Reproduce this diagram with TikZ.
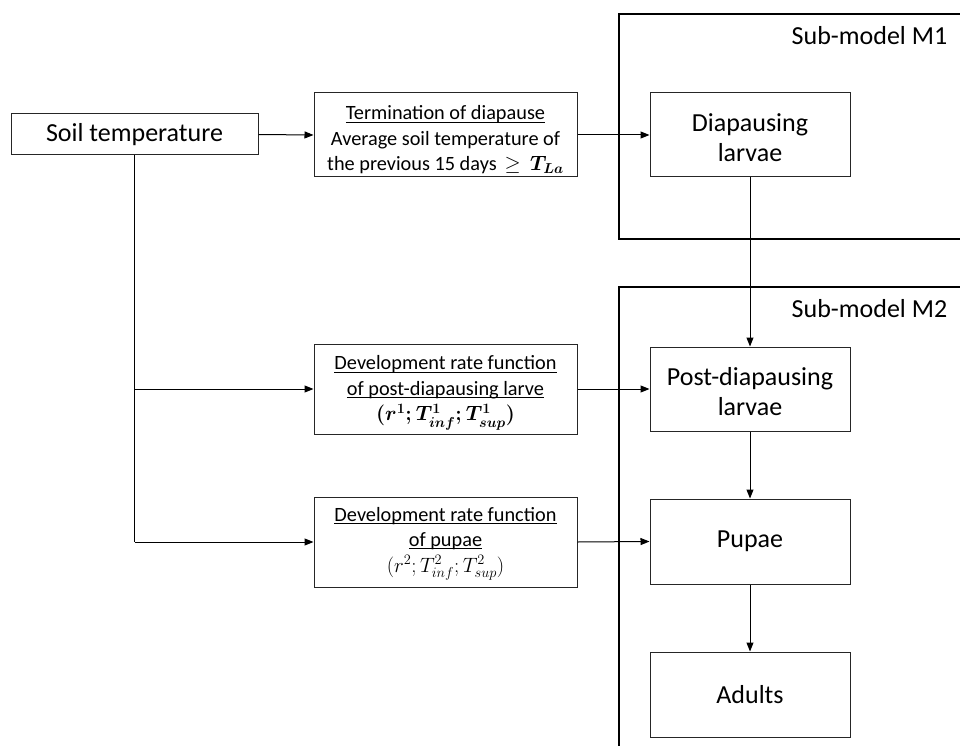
\documentclass[tikz,border=0pt]{standalone}
\usepackage{amsmath,amssymb}
\usepackage{fontspec}
\setmainfont{Carlito}
\usetikzlibrary{arrows.meta}
\newcommand\myul[1]{\setbox0\hbox{#1}\rlap{\rule[-2.6pt]{\wd0}{0.9pt}}\box0}
\newcommand\topstrut[1]{\rule{0pt}{#1}}
\begin{document}
\begin{tikzpicture}[x=1pt,y=-1pt,
  box/.style={draw=black!85,line width=1pt,rectangle,inner sep=0pt,align=center},
  bigtxt/.style={font=\fontsize{26}{30}\selectfont},
  smalltxt/.style={font=\fontsize{20.3}{25.5}\selectfont},
  frame/.style={draw=black,line width=2.6pt},
  conn/.style={draw=black,line width=1pt,-{Triangle[length=9pt,width=7pt]}},
  plain/.style={draw=black,line width=1pt}]
\useasboundingbox (0,0) rectangle (960,746);
% frames
\draw[frame] (962,14) -- (619,14) -- (619,239) -- (962,239);
\draw[frame] (962,287) -- (619,287) -- (619,750);
\node[bigtxt,anchor=center] (m1) at (869.5,36) {Sub-model M1};
\node[bigtxt,anchor=center] (m2) at (869.5,309) {Sub-model M2};
% nodes
\node[box,bigtxt,minimum width=247pt,minimum height=41pt] (soil) at (134.5,134.5) {Soil temperature};
\node[box,smalltxt,minimum width=263pt,minimum height=84pt] (term) at (445.5,135)
  {\topstrut{24pt}\myul{Termination of diapause}\\Average soil temperature of\\the previous 15 days $\,\geq\, \boldsymbol{T_{La}}$};
\node[box,bigtxt,minimum width=200pt,minimum height=84pt] (diap) at (750,135) {\topstrut{24pt}Diapausing\\larvae};
\node[box,smalltxt,minimum width=263pt,minimum height=90pt] (dev1) at (445.5,389)
  {\topstrut{22pt}\myul{Development rate function}\\\myul{of post-diapausing larve}\\$\boldsymbol{(r^1; T^1_{inf}; T^1_{sup})}$};
\node[box,bigtxt,minimum width=200pt,minimum height=84pt] (post) at (750,389) {\topstrut{24pt}Post-diapausing\\larvae};
\node[box,smalltxt,minimum width=263pt,minimum height=90pt] (dev2) at (445.5,542)
  {\topstrut{18pt}\myul{Development rate function}\\\myul{of pupae}\\$(r^2; T^2_{inf}; T^2_{sup})$};
\node[box,bigtxt,minimum width=200pt,minimum height=85pt] (pupae) at (750,541.5) {Pupae};
\node[box,bigtxt,minimum width=200pt,minimum height=85pt] (adults) at (750,694.5) {Adults};
% connectors
\draw[conn] (soil.east) -- (term.west);
\draw[conn] (term.east) -- (diap.west);
\draw[plain] (soil.south) -- (soil.south |- dev2.west);
\draw[conn] (soil.south |- dev1.west) -- (dev1.west);
\draw[conn] (soil.south |- dev2.west) -- (dev2.west);
\draw[conn] (dev1.east) -- (post.west);
\draw[conn] (dev2.east) -- (pupae.west);
\draw[conn] (diap.south) -- (post.north);
\draw[conn] (post.south) -- (pupae.north);
\draw[conn] (pupae.south) -- (adults.north);
\end{tikzpicture}
\end{document}
